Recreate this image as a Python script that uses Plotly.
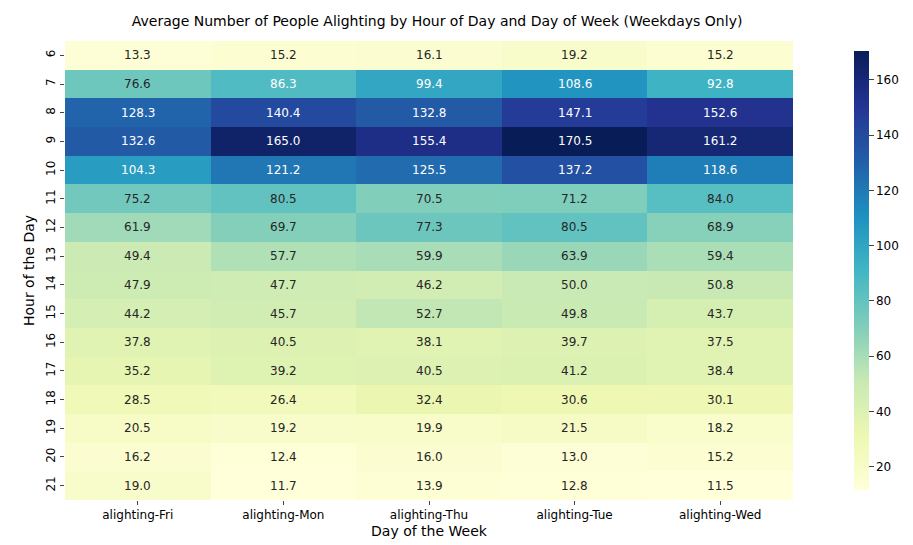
import plotly.graph_objects as go

days = ["alighting-Fri", "alighting-Mon", "alighting-Thu", "alighting-Tue", "alighting-Wed"]
hours = [6, 7, 8, 9, 10, 11, 12, 13, 14, 15, 16, 17, 18, 19, 20, 21]
fri = [13.3, 76.6, 128.3, 132.6, 104.3, 75.2, 61.9, 49.4, 47.9, 44.2, 37.8, 35.2, 28.5, 20.5, 16.2, 19.0]
mon = [15.2, 86.3, 140.4, 165.0, 121.2, 80.5, 69.7, 57.7, 47.7, 45.7, 40.5, 39.2, 26.4, 19.2, 12.4, 11.7]
thu = [16.1, 99.4, 132.8, 155.4, 125.5, 70.5, 77.3, 59.9, 46.2, 52.7, 38.1, 40.5, 32.4, 19.9, 16.0, 13.9]
tue = [19.2, 108.6, 147.1, 170.5, 137.2, 71.2, 80.5, 63.9, 50.0, 49.8, 39.7, 41.2, 30.6, 21.5, 13.0, 12.8]
wed = [15.2, 92.8, 152.6, 161.2, 118.6, 84.0, 68.9, 59.4, 50.8, 43.7, 37.5, 38.4, 30.1, 18.2, 15.2, 11.5]

cols = [fri, mon, thu, tue, wed]
z = [[c[i] for c in cols] for i in range(len(hours))]
xi = list(range(len(days)))
yi = list(range(len(hours)))

fig = go.Figure(go.Heatmap(
    z=z, x=xi, y=yi, colorscale="YlGnBu", zmin=11.5, zmax=170.5,
    colorbar=dict(thickness=15, len=1, y=0.5, yanchor="middle", x=1.07, xanchor="left",
                  tickvals=[20, 40, 60, 80, 100, 120, 140, 160], outlinewidth=0,
                  ticks="outside", tickfont=dict(size=12)),
))

for i in yi:
    for j in xi:
        v = z[i][j]
        fig.add_annotation(x=j, y=i, text=f"{v:.1f}", showarrow=False,
                           font=dict(size=12, color="white" if v > 85 else "#262626"))

fig.update_layout(
    width=913, height=545,
    margin=dict(l=57, r=116, t=33, b=53),
    plot_bgcolor="white", paper_bgcolor="white",
    font=dict(family="DejaVu Sans", size=12, color="black"),
    title=dict(text="Average Number of People Alighting by Hour of Day and Day of Week (Weekdays Only)",
               x=0.47, xanchor="center", y=0.985, yanchor="top", font=dict(size=14)),
)
fig.update_xaxes(title=dict(text="Day of the Week", standoff=4), tickvals=xi, ticktext=days,
                 ticks="outside", ticklen=4, showgrid=False, zeroline=False)
fig.update_yaxes(title=dict(text="Hour of the Day", standoff=6), autorange="reversed", tickangle=-90,
                 tickvals=yi, ticktext=[str(h) for h in hours],
                 ticks="outside", ticklen=4, showgrid=False, zeroline=False)

fig.write_html("out.html")
